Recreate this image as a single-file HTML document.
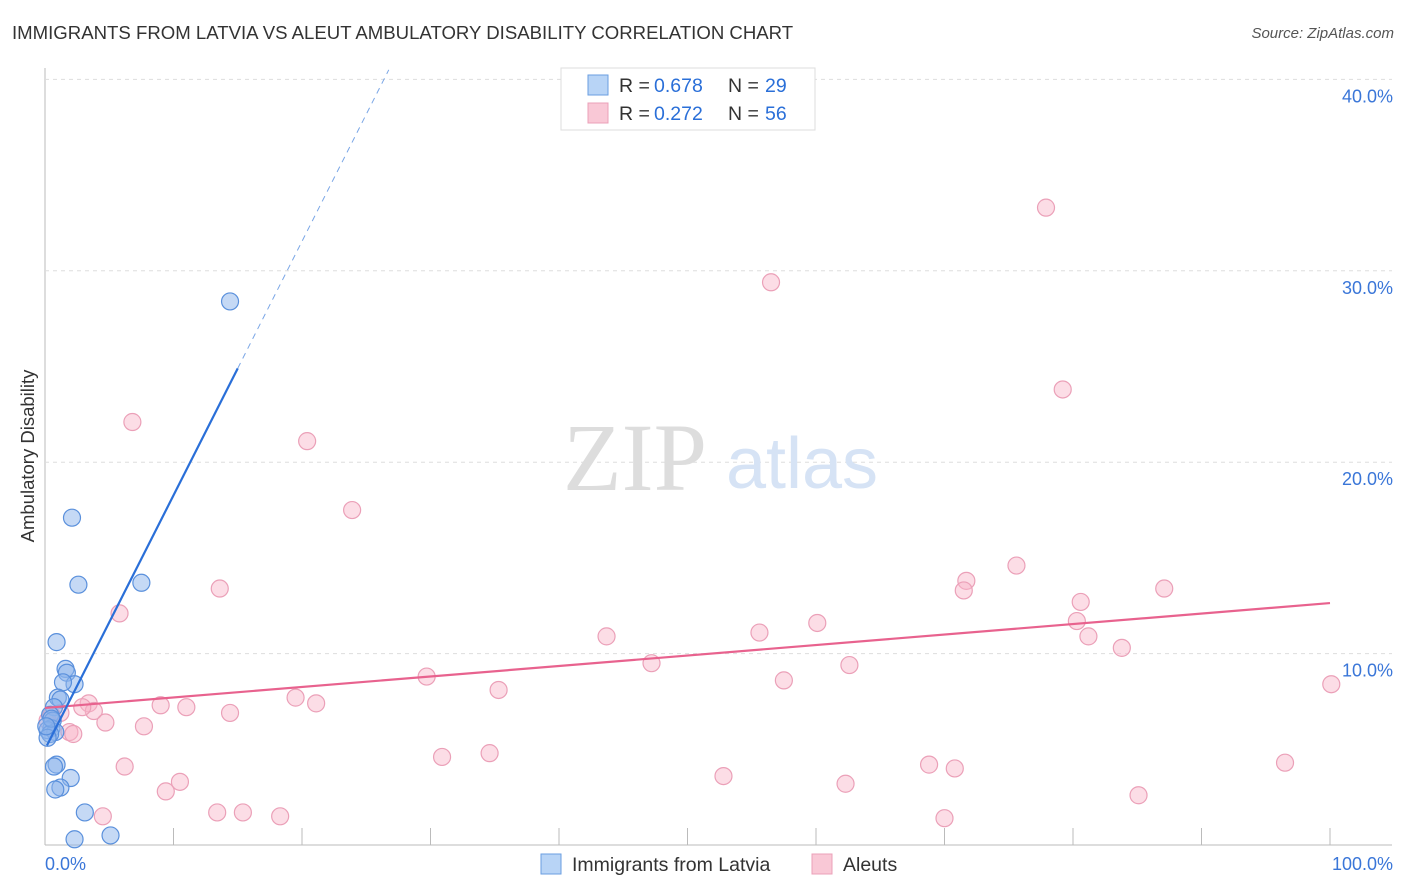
<!DOCTYPE html>
<html><head><meta charset="utf-8"><style>
body{margin:0;background:#fff;font-family:"Liberation Sans",sans-serif}
#c{position:relative;width:1406px;height:892px}
.t{position:absolute;white-space:nowrap}
</style></head><body><div id="c">
<div class="t" style="left:12px;top:22px;font-size:18.6px;color:#333">IMMIGRANTS FROM LATVIA VS ALEUT AMBULATORY DISABILITY CORRELATION CHART</div>
<div class="t" style="right:12px;top:25px;font-size:15px;color:#555;font-style:italic">Source: ZipAtlas.com</div>
<svg id="s" width="1406" height="892" style="position:absolute;left:0;top:0"></svg>
</div>
<script>
const blueX=[14.4,2.1,2.6,7.5,0.9,1.6,1.7,2.3,1.4,1.0,1.2,0.7,0.4,0.6,0.5,0.2,0.8,0.4,0.9,0.7,2.0,1.2,0.8,3.1,2.3,5.1,0.2,0.5,0.1];
const blueY=[28.4,17.1,13.6,13.7,10.6,9.2,9.0,8.4,8.5,7.7,7.6,7.2,6.8,6.5,6.1,6.0,5.9,5.8,4.2,4.1,3.5,3.0,2.9,1.7,0.3,0.5,5.6,6.6,6.2];
const pinkX=[77.9,56.5,79.2,6.8,20.4,23.9,75.6,71.7,71.5,87.1,13.6,80.6,5.8,60.1,80.3,43.7,55.6,81.2,83.8,47.2,62.6,29.7,35.3,57.5,100.1,19.5,21.1,9.0,11.0,3.4,3.8,2.9,14.4,1.2,4.7,7.7,1.9,2.2,30.9,34.6,6.2,52.8,68.8,70.8,10.5,9.4,62.3,96.5,85.1,4.5,13.4,15.4,18.3,70.0,0.5,0.2];
const pinkY=[33.3,29.4,23.8,22.1,21.1,17.5,14.6,13.8,13.3,13.4,13.4,12.7,12.1,11.6,11.7,10.9,11.1,10.9,10.3,9.5,9.4,8.8,8.1,8.6,8.4,7.7,7.4,7.3,7.2,7.4,7.0,7.2,6.9,6.9,6.4,6.2,5.9,5.8,4.6,4.8,4.1,3.6,4.2,4.0,3.3,2.8,3.2,4.3,2.6,1.5,1.7,1.7,1.5,1.4,6.8,6.5];
const blueFit=[5.0,1.327];
const pinkFit=[7.16,0.0548];
const yTicks=[10,20,30,40];
const xTicks=[0,10,20,30,40,50,60,70,80,90,100];
const X=v=>45+v*12.85, Y=v=>845-v*19.14;
const s=document.getElementById('s'),NS='http://www.w3.org/2000/svg';
function mk(t,a,p){const e=document.createElementNS(NS,t);for(const k in a)e.setAttribute(k,a[k]);(p||s).appendChild(e);return e;}
let ax=mk('line',{x1:45,y1:68,x2:45,y2:845,stroke:'#bbb'});

let bx=mk('line',{x1:45,y1:845,x2:1392,y2:845,stroke:'#bbb'});

yTicks.forEach(v=>{let g=mk('line',{x1:45,x2:1392,y1:Y(v),y2:Y(v),stroke:'#ddd','stroke-dasharray':'4,4'});

let t=mk('text',{x:1393,y:Y(v)+23,'text-anchor':'end','font-size':18,fill:'#3a76d8'});t.textContent=v.toFixed(1)+'%';
});
xTicks.forEach(v=>{let l=mk('line',{x1:X(v),x2:X(v),y1:828,y2:845,stroke:'#bbb'});
});
let x0=mk('text',{x:45,y:870,'font-size':18,fill:'#3a76d8'});x0.textContent='0.0%';

let x1=mk('text',{x:1393,y:870,'text-anchor':'end','font-size':18,fill:'#3a76d8'});x1.textContent='100.0%';

let yt=mk('text',{x:0,y:0,transform:'translate(34,456) rotate(-90)','text-anchor':'middle','font-size':18.5,fill:'#333'});yt.textContent='Ambulatory Disability';

let w1=mk('text',{x:635,y:490,'text-anchor':'middle','font-size':96,fill:'#ddd','font-family':'Liberation Serif'});w1.textContent='ZIP';

let w2=mk('text',{x:802,y:488,'text-anchor':'middle','font-size':72,fill:'#d6e3f5'});w2.textContent='atlas';

pinkX.forEach((v,i)=>{let c=mk('circle',{cx:X(v),cy:Y(pinkY[i]),r:8.5,fill:'rgba(248,180,200,0.45)',stroke:'#eba0b8','stroke-width':1.2});
});
blueX.forEach((v,i)=>{let c=mk('circle',{cx:X(v),cy:Y(blueY[i]),r:8.5,fill:'rgba(140,180,235,0.5)',stroke:'#5a90dc','stroke-width':1.2});
});
let pl=mk('line',{x1:X(0),y1:Y(pinkFit[0]),x2:X(100),y2:Y(pinkFit[0]+pinkFit[1]*100),stroke:'#e8628e','stroke-width':2.2});

let bl=mk('line',{x1:X(0.15),y1:Y(blueFit[0]+blueFit[1]*0.15),x2:X(15),y2:Y(blueFit[0]+blueFit[1]*15),stroke:'#2a6fd8','stroke-width':2.2});

let xe=(40.5-blueFit[0])/blueFit[1];
let bd=mk('line',{x1:X(15),y1:Y(blueFit[0]+blueFit[1]*15),x2:X(xe),y2:Y(40.5),stroke:'#7aa6e6','stroke-width':1,'stroke-dasharray':'6,5'});

let lg=mk('rect',{x:561,y:68,width:254,height:62,fill:'#fff',stroke:'#ddd'});

[['#b8d4f6','#6a9ee0','0.678','29',85],['#f9c8d6','#eba0b8','0.272','56',113]].forEach(a=>{
let r=mk('rect',{x:588,y:a[4]-10,width:20,height:20,fill:a[0],stroke:a[1]});

let t1=mk('text',{x:619,y:a[4]+7,'font-size':19.5,fill:'#333'});t1.textContent='R =';

let t2=mk('text',{x:654,y:a[4]+7,'font-size':19.5,fill:'#2a6fd8'});t2.textContent=a[2];

let t3=mk('text',{x:728,y:a[4]+7,'font-size':19.5,fill:'#333'});t3.textContent='N =';

let t4=mk('text',{x:765,y:a[4]+7,'font-size':19.5,fill:'#2a6fd8'});t4.textContent=a[3];
});
[[541,'Immigrants from Latvia','#b8d4f6','#6a9ee0'],[812,'Aleuts','#f9c8d6','#eba0b8']].forEach(a=>{
let r=mk('rect',{x:a[0],y:854,width:20,height:20,fill:a[2],stroke:a[3]});

let t=mk('text',{x:a[0]+31,y:871,'font-size':19.5,fill:'#333'});t.textContent=a[1];
});
</script></body></html>
